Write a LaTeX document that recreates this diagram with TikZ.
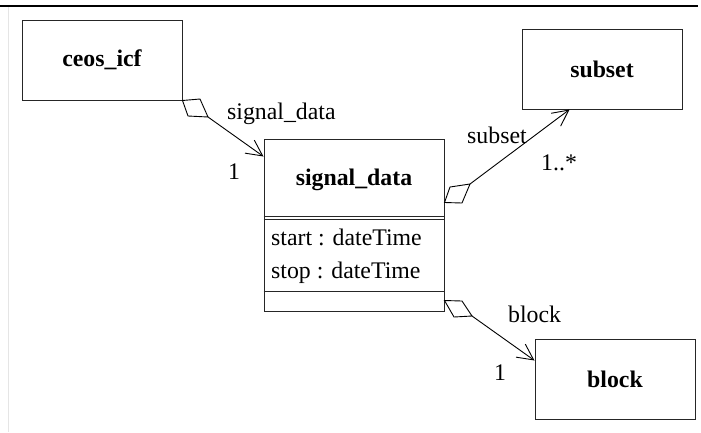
\documentclass[tikz,border=0pt]{standalone}
\usepackage{fontspec}
\setmainfont{Liberation Serif}
\usetikzlibrary{arrows.meta,calc}
\begin{document}
\begin{tikzpicture}[x=1pt,y=-1pt,
  classbox/.style={draw=black!85, line width=1pt, fill=white, inner sep=0pt,
    minimum width=160pt, minimum height=80pt,
    font=\bfseries\fontsize{23.8}{28}\selectfont},
  classname/.style={inner sep=0pt, font=\bfseries\fontsize{23.8}{28}\selectfont},
  lbl/.style={inner sep=0pt, anchor=base west, font=\fontsize{23.8}{28}\selectfont},
  assoc/.style={draw=black, line width=0.9pt,
    -{Straight Barb[length=16pt,width=16pt,line width=0.9pt]}},
  aggr/.style={draw=black, line width=0.9pt, fill=white, line join=miter}]
\useasboundingbox (0,0) rectangle (701,432);

% frame rules
\draw[line width=2.4pt] (0,6) -- (698,6);
\draw[black!10, line width=1pt] (8,7) -- (8,432);

% plain classes
\node[classbox] (ceos)   at (102,60)  {ceos\_icf};
\node[classbox] (subset) at (602,69)  {subset};
\node[classbox] (block)  at (615,379) {block};

% signal_data class with three compartments
\node[draw=black!85, line width=1pt, fill=white, inner sep=0pt,
      minimum width=180pt, minimum height=172pt] (sd) at (354,225) {};
\node[classname] (sdname) at (354,180) {signal\_data};
\draw[black!85, line width=1pt]
  ($(sd.north west)+(0,78)$) -- ($(sd.north east)+(0,78)$)
  ($(sd.north west)+(0,80.5)$) -- ($(sd.north east)+(0,80.5)$)
  ($(sd.north west)+(0,153)$) -- ($(sd.north east)+(0,153)$);
\node[lbl] (attrstart) at (271,245) {start : dateTime};
\node[lbl] (attrstop)  at (271,278) {stop : dateTime};

% aggregation diamonds
\coordinate (d1) at (208,117);
\draw[aggr] (ceos.south east) -- (200,99) -- (d1) -- (188,116) -- cycle;
\coordinate (d2base) at ($(sd.north east)+(0,64)$);
\coordinate (d2) at (470,184);
\draw[aggr] (d2base) -- (450,187) -- (d2) -- (462,203) -- cycle;
\coordinate (d3base) at ($(sd.north east)+(0,162)$);
\coordinate (d3) at (472,316);
\draw[aggr] (d3base) -- (462,301) -- (d3) -- (454,317) -- cycle;

% association ends
\coordinate (e1) at ($(sd.north west)+(0,18)$);
\coordinate (e2) at ($(subset.south west)+(48,0)$);
\coordinate (e3) at ($(block.north west)+(0,22)$);
\draw[assoc] (d1) -- (e1);
\draw[assoc] (d2) -- (e2);
\draw[assoc] (d3) -- (e3);

% role names and multiplicities
\node[lbl] (r1) at (227,119) {signal\_data};
\node[lbl] (m1) at (228,179) {1};
\node[lbl] (r2) at (467,143) {subset};
\node[lbl] (m2) at (541,170) {1..*};
\node[lbl] (r3) at (508,322) {block};
\node[lbl] (m3) at (494,380) {1};
\end{tikzpicture}
\end{document}
